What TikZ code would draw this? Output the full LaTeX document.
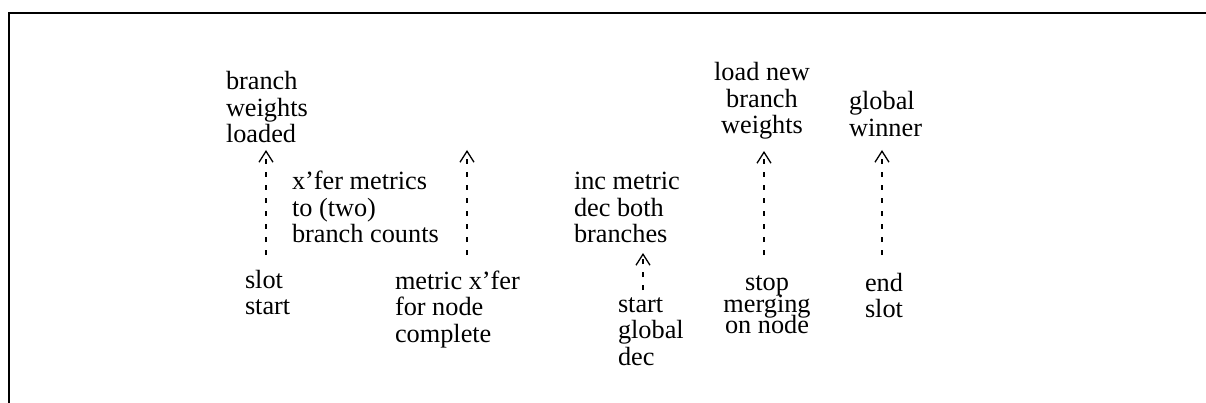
\documentclass[tikz,border=0pt]{standalone}
\usepackage{fontspec}
\setmainfont{Liberation Serif}
\usetikzlibrary{arrows.meta}

\tikzset{
  lbl/.style={inner sep=0pt, outer sep=0pt, font=\fontsize{26.3}{26.5}\selectfont},
  lft/.style={lbl, anchor=base west},
  ctr/.style={lbl, anchor=base},
  link/.style={line width=1.3pt, dash pattern=on 5pt off 8pt,
    -{Straight Barb[length=11pt,width=14pt,line width=1.3pt]}},
  frame/.style={line width=1.7pt}
}
\newcommand{\lcol}[1]{\begin{tabular}[t]{@{}l@{}}#1\end{tabular}}
\newcommand{\ccol}[1]{\begin{tabular}[t]{@{}c@{}}#1\end{tabular}}

\begin{document}
\begin{tikzpicture}[x=1pt, y=-1pt]
  \useasboundingbox (0,0) rectangle (1206,403);

  % open frame: top and left edges only
  \draw[frame] (1206,13) -- (9,13) -- (9,403);

  % upper row of events
  \node[lft] (loaded)   at (226,90)  {\lcol{branch\\weights\\loaded}};
  \node[lft] (xfer)     at (292,190) {\lcol{x’fer metrics\\to (two)\\branch counts}};
  \node[lft] (incmet)   at (574,190) {\lcol{inc metric\\dec both\\branches}};
  \node[ctr] (loadnew)  at (762,81)  {\ccol{load new\\branch\\weights}};
  \node[lft] (winner)   at (849,110) {\lcol{global\\winner}};

  % lower row of events
  \node[lft] (slotstart) at (245,288) {\lcol{slot\\start}};
  \node[lft] (metdone)   at (395,289) {\lcol{metric x’fer\\for node\\complete}};
  \node[lft] (globdec)   at (618,312) {\lcol{start\\global\\dec}};
  \node[ctr] (stopmerge) at (767,290) {\ccol{stop\\[-4pt]merging\\[-6pt]on node}};
  \node[lft] (endslot)   at (865,291) {\lcol{end\\slot}};

  % arrow columns
  \coordinate (c1) at (266,0);
  \coordinate (c2) at (467,0);
  \coordinate (c3) at (643,0);
  \coordinate (c4) at (764,0);
  \coordinate (c5) at (882,0);
  \coordinate (top2) at (467,150);

  \draw[link, shorten <=14.45pt, shorten >=-0.95pt]
    (c1 |- slotstart.north) -- (c1 |- loaded.south);
  \draw[link, shorten <=15.45pt]
    (c2 |- metdone.north) -- (top2);
  \draw[link, shorten <=3.45pt, shorten >=2.05pt]
    (c3 |- globdec.north) -- (c3 |- incmet.south);
  \draw[link, shorten <=16.45pt, shorten >=9.05pt]
    (c4 |- stopmerge.north) -- (c4 |- loadnew.south);
  \draw[link, shorten <=17.45pt, shorten >=5.55pt]
    (c5 |- endslot.north) -- (c5 |- winner.south);
\end{tikzpicture}
\end{document}
